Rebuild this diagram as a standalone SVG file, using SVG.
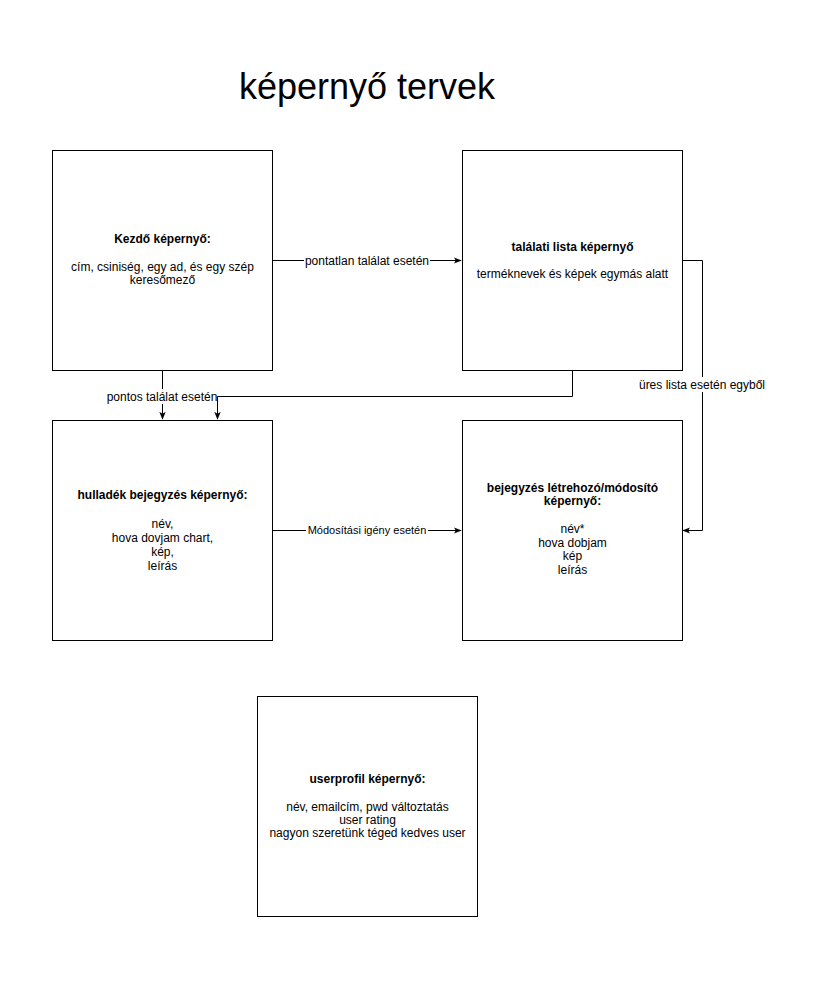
<svg xmlns="http://www.w3.org/2000/svg" width="822" height="984" viewBox="0 0 822 984">
<defs>
<style>
.box{fill:#fff;stroke:#000;stroke-width:1}
.t{font-family:"Liberation Sans",Arial,sans-serif;font-size:12px;fill:#000;text-anchor:middle}
.b{font-weight:bold}
.lbl{font-family:"Liberation Sans",Arial,sans-serif;font-size:12px;fill:#000;text-anchor:middle}
.sm{font-size:11px}
.lbg{fill:#fff}
.edge{fill:none;stroke:#000;stroke-width:1}
</style>
<marker id="arr" viewBox="0 0 10 10" refX="9" refY="5" markerWidth="8" markerHeight="8" markerUnits="userSpaceOnUse" orient="auto">
<path d="M0,1 L10,5 L0,9 L2.5,5 Z" fill="#000"/>
</marker>
</defs>
<rect width="822" height="984" fill="#fff"/>
<text x="367" y="99" font-family="'Liberation Sans',Arial,sans-serif" font-size="36" text-anchor="middle" fill="#000">képernyő tervek</text>

<g id="connectors">
<path class="edge" d="M272.5,260.5 H461" marker-end="url(#arr)"/>
<rect class="lbg" x="304" y="253" width="126" height="15"/>
<text class="lbl" x="367" y="265">pontatlan találat esetén</text>

<path class="edge" d="M162.5,370.5 V419" marker-end="url(#arr)"/>
<rect class="lbg" x="106" y="389" width="112" height="15"/>
<text class="lbl" x="162" y="400.5">pontos találat esetén</text>

<path class="edge" d="M572.5,370.5 V396.5 H217.5 V419" marker-end="url(#arr)"/>

<path class="edge" d="M682.5,260.5 H702.5 V530.5 H683" marker-end="url(#arr)"/>
<rect class="lbg" x="636" y="377" width="132" height="15"/>
<text class="lbl" x="702" y="388.5">üres lista esetén egyből</text>

<path class="edge" d="M272.5,530.5 H461" marker-end="url(#arr)"/>
<rect class="lbg" x="306" y="523" width="122" height="14"/>
<text class="lbl sm" x="367" y="534">Módosítási igény esetén</text>
</g>

<g id="kezdo">
<rect class="box" x="52.5" y="150.5" width="220" height="220"/>
<text class="t b" x="162.5" y="242.5">Kezdő képernyő:</text>
<text class="t" x="162.5" y="270.5">cím, csiniség, egy ad, és egy szép</text>
<text class="t" x="162.5" y="284">keresőmező</text>
</g>

<g id="talalati">
<rect class="box" x="462.5" y="150.5" width="220" height="220"/>
<text class="t b" x="572.5" y="251">találati lista képernyő</text>
<text class="t" x="572.5" y="278">terméknevek és képek egymás alatt</text>
</g>

<g id="hulladek">
<rect class="box" x="52.5" y="420.5" width="220" height="220"/>
<text class="t b" x="162.5" y="499">hulladék bejegyzés képernyő:</text>
<text class="t" x="162.5" y="527.5">név,</text>
<text class="t" x="162.5" y="541.5">hova dovjam chart,</text>
<text class="t" x="162.5" y="555.5">kép,</text>
<text class="t" x="162.5" y="569.5">leírás</text>
</g>

<g id="bejegyzes">
<rect class="box" x="462.5" y="420.5" width="220" height="220"/>
<text class="t b" x="572.5" y="491.5">bejegyzés létrehozó/módosító</text>
<text class="t b" x="572.5" y="505">képernyő:</text>
<text class="t" x="572.5" y="533">név*</text>
<text class="t" x="572.5" y="546.5">hova dobjam</text>
<text class="t" x="572.5" y="560">kép</text>
<text class="t" x="572.5" y="573.5">leírás</text>
</g>

<g id="userprofil">
<rect class="box" x="257.5" y="696.5" width="220" height="220"/>
<text class="t b" x="367.5" y="782.5">userprofil képernyő:</text>
<text class="t" x="367.5" y="811">név, emailcím, pwd változtatás</text>
<text class="t" x="367.5" y="824">user rating</text>
<text class="t" x="367.5" y="837">nagyon szeretünk téged kedves user</text>
</g>
</svg>
